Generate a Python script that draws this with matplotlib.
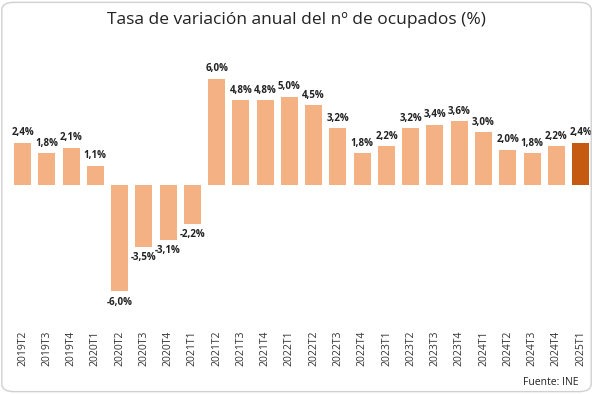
import matplotlib.pyplot as plt
from matplotlib.patches import FancyBboxPatch

periodos = ["2019T2", "2019T3", "2019T4", "2020T1", "2020T2", "2020T3", "2020T4", "2021T1",
            "2021T2", "2021T3", "2021T4", "2022T1", "2022T2", "2022T3", "2022T4", "2023T1",
            "2023T2", "2023T3", "2023T4", "2024T1", "2024T2", "2024T3", "2024T4", "2025T1"]
tasas = [2.4, 1.8, 2.1, 1.1, -6.0, -3.5, -3.1, -2.2, 6.0, 4.8, 4.8, 5.0,
         4.5, 3.2, 1.8, 2.2, 3.2, 3.4, 3.6, 3.0, 2.0, 1.8, 2.2, 2.4]

plt.rcParams['font.family'] = ['Open Sans', 'DejaVu Sans']

fig = plt.figure(figsize=(5.93, 3.94), dpi=100)
ax = fig.add_axes([0.0175, 0.175, 0.982, 0.67])

colores = ['#F4B183'] * (len(tasas) - 1) + ['#C55A11']
x = range(len(tasas))
ax.bar(x, tasas, width=0.7, color=colores)

for i, v in enumerate(tasas):
    etiqueta = f"{v:.1f}".replace('.', ',') + '%'
    if v >= 0:
        ax.text(i, v + 0.25, etiqueta, ha='center', va='bottom', fontsize=7, fontweight='bold', color='#222222')
    else:
        ax.text(i, v - 0.3, etiqueta, ha='center', va='top', fontsize=7, fontweight='bold', color='#222222')

ax.set_xlim(-0.5, len(tasas) - 0.5)
ax.set_ylim(-7.9, 7.0)
ax.set_xticks(list(x))
ax.set_xticklabels(periodos, rotation=90, fontsize=7.5, color='#333333')
ax.tick_params(axis='x', length=0, pad=4)
ax.set_yticks([])
for s in ax.spines.values():
    s.set_visible(False)

fig.text(0.5, 0.95, "Tasa de variación anual del nº de ocupados (%)", ha='center', va='center',
         fontsize=12.5, color='#222222')
fig.text(0.975, 0.03, "Fuente: INE", ha='right', va='center', fontsize=7.5, color='#222222')

marco = FancyBboxPatch((0.003, 0.006), 0.994, 0.988, boxstyle="round,pad=0,rounding_size=0.02",
                       transform=fig.transFigure, fill=False, edgecolor='#d0d0d0', linewidth=1)
fig.patches.append(marco)

plt.savefig("out.png", dpi=100)
